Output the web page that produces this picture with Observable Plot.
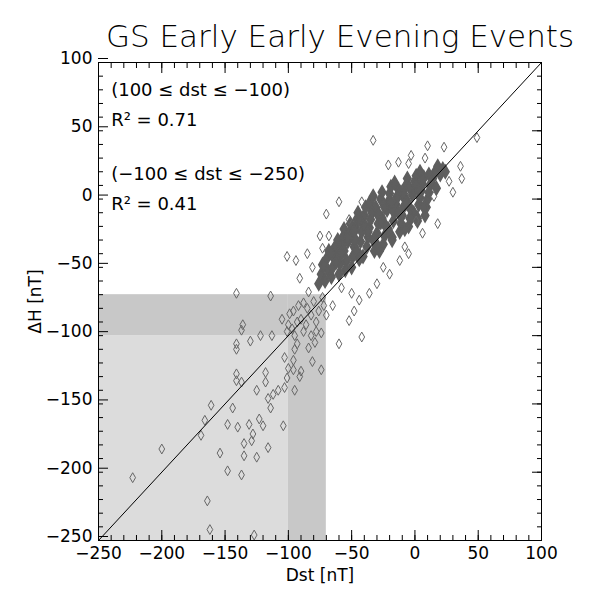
<!DOCTYPE html>
<html><head><meta charset="utf-8">
<script src="https://cdn.jsdelivr.net/npm/d3@7"></script>
<script src="https://cdn.jsdelivr.net/npm/@observablehq/plot@0.6"></script>
<style>body{margin:0;background:#fff;font-family:"DejaVu Sans",sans-serif}</style>
</head><body><div id="c"></div>
<script>
const title = "GS Early Early Evening Events";
const xDomain = [-250, 100];
const yDomain = [-250, 100];
const majorTicks = [-250, -200, -150, -100, -50, 0, 50, 100];
const annotations = ["(100 ≤ dst ≤ −100)", "R² = 0.71", "(−100 ≤ dst ≤ −250)", "R² = 0.41"];
const annotY = [80, 58, 18, -4];
// shaded regions [x1,x2,y1,y2]
const lightRegion = [[-250, -100, -250, -100]];
const darkRegions = [[-100, -70, -250, -70], [-250, -100, -100, -70]];

// sparse outlying events
const outDst = [-223,-200,-164,-162,-161,-166,-169,-154,-148,-148,-144,-140,-137,-135,-135,-131,-129,-128,-125,-127,-123,-120,-116,-104,
 -141,-114,-136,-137,-141,-141,-130,-122,-113,-141,-141,-137,-125,-118,-118,-116,-112,-114,-108,-103,-101,-103,-100,-95,-96,-96,-91,-90,-84,-81,-74,-93,-95,
 -105,-100,-97,-93,-90,-95,-88,-85,-82,-80,-78,-76,-73,-72,-70,-78,-82,-74,-101,-88,-92,-96,-79,-86,-99,-84,
 -33,49,10,23,-3,8,-21,-13,-5,37,36,27,15,6,-5,1,-42,-60,-70,-52,-75,-68,-101,-94,-85,-73,-81,-91,-52,-42,-60,-44,-25,-36,-50,
 -30,-58,-65,-48,-20,-12,30,18,-8];
const outDH  = [-204,-183,-221,-242,-151,-162,-173,-186,-199,-165,-153,-167,-202,-179,-188,-165,-177,-172,-189,-246,-161,-166,-182,-166,
 -69,-71,-92,-96,-106,-110,-104,-100,-100,-128,-133,-134,-140,-127,-134,-146,-143,-153,-140,-138,-131,-116,-124,-140,-118,-125,-130,-126,-109,-119,-125,-106,-110,
 -88,-92,-95,-90,-88,-100,-97,-80,-85,-75,-90,-82,-72,-78,-85,-97,-100,-98,-97,-76,-78,-82,-105,-92,-84,-68,
 43,45,39,38,32,30,25,27,26,15,24,13,2,-25,-40,-16,-2,-2,-11,-15,-27,-27,-42,-45,-40,-36,-50,-58,-89,-101,-106,-74,-50,-69,-69,
 -62,-65,-78,-82,-55,-45,5,-18,-35];

// dense core of events
const coreDst = [-76,-74,-73,-71,-69,-70,-68,-66,-65,-64,-63,-61,-60,-59,-61,-58,-57,-56,-55,-54,-56,-53,-52,-51,-50,-49,-48,-51,-47,-46,-45,-44,-46,-43,-42,
 -41,-40,-39,-41,-38,-37,-36,-35,-34,-36,-33,-32,-31,-30,-29,-28,-31,-27,-26,-25,-24,-23,-26,-22,-21,-20,-19,-18,-21,-17,-16,-15,-14,-13,-16,
 -12,-11,-10,-9,-8,-11,-7,-6,-5,-4,-3,-6,-2,-1,0,1,2,-1,3,4,5,6,7,4,8,9,10,11,12,14,16,18,20,22,24,
 -62,-57,-53,-48,-44,-39,-34,-29,-24,-19,-14,-9,-4,1,6,11,-66,-47,-37,-27,-17,-7,3,13,-72,-58,-43,-33,-23,-13,-3,7,17,-28,-18,-8,2];
const coreDH = [-62,-55,-48,-60,-52,-44,-38,-57,-50,-43,-35,-30,-55,-47,-41,-34,-28,-22,-52,-45,-38,-31,-25,-18,-50,-42,-35,-28,-21,-15,-10,-44,-38,-31,-24,
 -18,-12,-6,-42,-35,-28,-21,-15,-9,-3,2,-38,-32,-25,-18,-12,-6,0,5,-33,-27,-20,-14,-8,-2,4,9,-28,-22,-16,-10,-4,2,7,12,
 -24,-18,-12,-6,0,5,10,15,-20,-14,-8,-2,3,8,13,17,-16,-10,-4,1,6,11,16,20,-12,-6,0,5,10,15,20,24,18,22,20,
 -46,-36,-28,-24,-15,-20,-10,-12,-6,-2,1,4,8,10,14,18,-40,-30,-24,-17,-9,-3,6,12,-48,-40,-42,-30,-20,-10,-14,-6,8,-38,-30,-22,-14];

const light = lightRegion.map(([x1,x2,y1,y2]) => ({x1,x2,y1,y2}));
const dark = darkRegions.map(([x1,x2,y1,y2]) => ({x1,x2,y1,y2}));
const out = outDst.map((x,i) => ({x, y: outDH[i]}));
const core = coreDst.map((x,i) => ({x, y: coreDH[i]}));
const ann = annotations.map((t,i) => ({t, y: annotY[i]}));

const chart = Plot.plot({
  width: 600, height: 600,
  marginLeft: 98, marginRight: 59, marginTop: 62, marginBottom: 60,
  style: {fontFamily: "DejaVu Sans, sans-serif", fontSize: "16px", color: "#000", background: "#fff"},
  x: {domain: xDomain, ticks: majorTicks},
  y: {domain: yDomain, ticks: majorTicks},
  marks: [
    Plot.rect(light, {x1:"x1", x2:"x2", y1:"y1", y2:"y2", fill: "#dcdcdc"}),
    Plot.rect(dark, {x1:"x1", x2:"x2", y1:"y1", y2:"y2", fill: "#c8c8c8"}),
    Plot.dot(core, {x:"x", y:"y", symbol:"diamond", r: 4, fill: "#5e5e5e", stroke: "#5e5e5e", strokeWidth: 1.5}),
    Plot.dot(out, {x:"x", y:"y", symbol:"diamond", r: 3, stroke: "#666", strokeWidth: 1}),
    Plot.link([0], {x1: () => xDomain[0], y1: () => yDomain[0], x2: () => xDomain[1], y2: () => yDomain[1], stroke: "#000", strokeWidth: 1}),
    Plot.frame({stroke: "#000"}),
    Plot.axisX({anchor: "bottom", ticks: majorTicks, tickSize: -10, tickPadding: 16, label: "Dst [nT]", labelArrow: "none", labelAnchor: "center", labelOffset: 40, fontSize: 17}),
    Plot.axisX({anchor: "bottom", interval: 10, tickSize: -5, text: null, label: null}),
    Plot.axisX({anchor: "top", ticks: majorTicks, tickSize: -10, text: null, label: null}),
    Plot.axisX({anchor: "top", interval: 10, tickSize: -5, text: null, label: null}),
    Plot.axisY({anchor: "left", ticks: majorTicks, tickSize: -10, tickPadding: 16, dy: -4, label: "ΔH [nT]", labelAnchor: "center", labelArrow: "none", labelOffset: 70, fontSize: 17}),
    Plot.axisY({anchor: "left", interval: 10, tickSize: -5, text: null, label: null}),
    Plot.axisY({anchor: "right", ticks: majorTicks, tickSize: -10, text: null, label: null}),
    Plot.axisY({anchor: "right", interval: 10, tickSize: -5, text: null, label: null}),
    Plot.text(ann, {x: () => -240, y: "y", text: "t", textAnchor: "start", fontSize: 18}),
    Plot.text([title], {frameAnchor: "top", dy: -38, text: d => d, fontSize: 31, dx: 20, fontWeight: 300})
  ]
});
document.getElementById("c").append(chart);
</script></body></html>
